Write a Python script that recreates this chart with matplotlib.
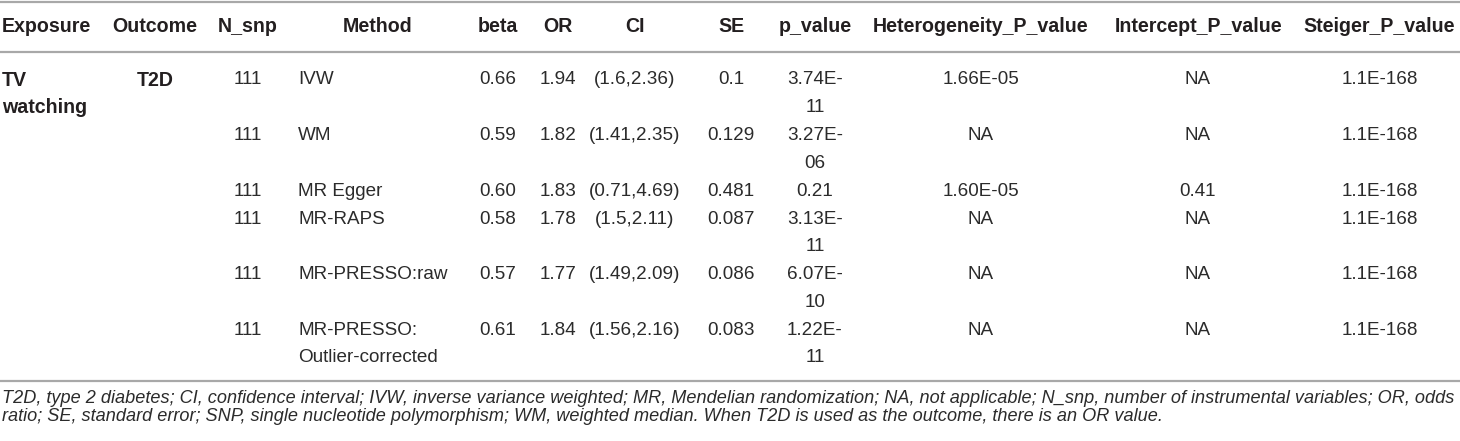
import matplotlib
matplotlib.use("Agg")
import matplotlib.pyplot as plt

# ---- data ----
headers = ["Exposure", "Outcome", "N_snp", "Method", "beta", "OR", "CI", "SE",
           "p_value", "Heterogeneity_P_value", "Intercept_P_value", "Steiger_P_value"]
exposure = ["TV\nwatching", "", "", "", "", ""]
outcome = ["T2D", "", "", "", "", ""]
n_snp = ["111", "111", "111", "111", "111", "111"]
methods = ["IVW", "WM", "MR Egger", "MR-RAPS", "MR-PRESSO:raw", "MR-PRESSO:\nOutlier-corrected"]
beta = ["0.66", "0.59", "0.60", "0.58", "0.57", "0.61"]
odds_ratio = ["1.94", "1.82", "1.83", "1.78", "1.77", "1.84"]
ci = ["(1.6,2.36)", "(1.41,2.35)", "(0.71,4.69)", "(1.5,2.11)", "(1.49,2.09)", "(1.56,2.16)"]
se = ["0.1", "0.129", "0.481", "0.087", "0.086", "0.083"]
p_value = ["3.74E-\n11", "3.27E-\n06", "0.21", "3.13E-\n11", "6.07E-\n10", "1.22E-\n11"]
het_p = ["1.66E-05", "NA", "1.60E-05", "NA", "NA", "NA"]
intercept_p = ["NA", "NA", "0.41", "NA", "NA", "NA"]
steiger_p = ["1.1E-168", "1.1E-168", "1.1E-168", "1.1E-168", "1.1E-168", "1.1E-168"]
footnote = ["T2D, type 2 diabetes; CI, confidence interval; IVW, inverse variance weighted; MR, Mendelian randomization; NA, not applicable; N_snp, number of instrumental variables; OR, odds",
            "ratio; SE, standard error; SNP, single nucleotide polymorphism; WM, weighted median. When T2D is used as the outcome, there is an OR value."]

columns = [exposure, outcome, n_snp, methods, beta, odds_ratio, ci, se,
           p_value, het_p, intercept_p, steiger_p]

# ---- layout (pixel space) ----
W, H = 1460, 441
col_x = [2, 155, 248, 378, 498, 558, 634.5, 731, 815, 981, 1199, 1379]
data_x = [2, 155, 248, 298, 498, 558, 634.5, 731, 815, 981, 1198, 1380]
data_ha = ["left", "center", "center", "left"] + ["center"] * 8
head_ha = ["left"] + ["center"] * 11
bold_cols = {0, 1}

FONT = "Liberation Sans"
FS = 13.6
FS_HEAD = 14.1
HEAD_COL = "#231f20"
TXT = "#2b2b2b"
RULE = "#a8a8a8"

y_header = 27
y_rule_top = 1.5
y_rule_head = 52
y_first = 80
pitch = 27.8
y_rule_bottom = 380.5
y_foot = [398.5, 416.5]

fig = plt.figure(figsize=(W / 100, H / 100), dpi=100)
ax = fig.add_axes([0, 0, 1, 1])
ax.set_xlim(0, W)
ax.set_ylim(H, 0)
ax.axis("off")

for x, ha, h in zip(col_x, head_ha, headers):
    ax.text(x, y_header, h, ha=ha, va="center", fontsize=FS_HEAD, fontweight="bold",
            family=FONT, color=HEAD_COL)

line_idx = 0
n_rows = len(methods)
for r in range(n_rows):
    nlines = max(len(col[r].split("\n")) for col in columns)
    for c, col in enumerate(columns):
        for k, part in enumerate(col[r].split("\n")):
            if not part:
                continue
            bold = c in bold_cols
            ax.text(data_x[c], y_first + pitch * (line_idx + k), part, ha=data_ha[c],
                    va="center", fontsize=FS_HEAD if bold else FS, family=FONT,
                    color=HEAD_COL if bold else TXT,
                    fontweight="bold" if bold else "normal")
    line_idx += nlines

for y in (y_rule_top, y_rule_head, y_rule_bottom):
    ax.plot([0, W], [y, y], color=RULE, lw=1.6, solid_capstyle="butt")

for y, t in zip(y_foot, footnote):
    ax.text(2, y, t, ha="left", va="center", fontsize=13.06, style="italic",
            family=FONT, color=TXT)

fig.savefig("out.png", dpi=100)
